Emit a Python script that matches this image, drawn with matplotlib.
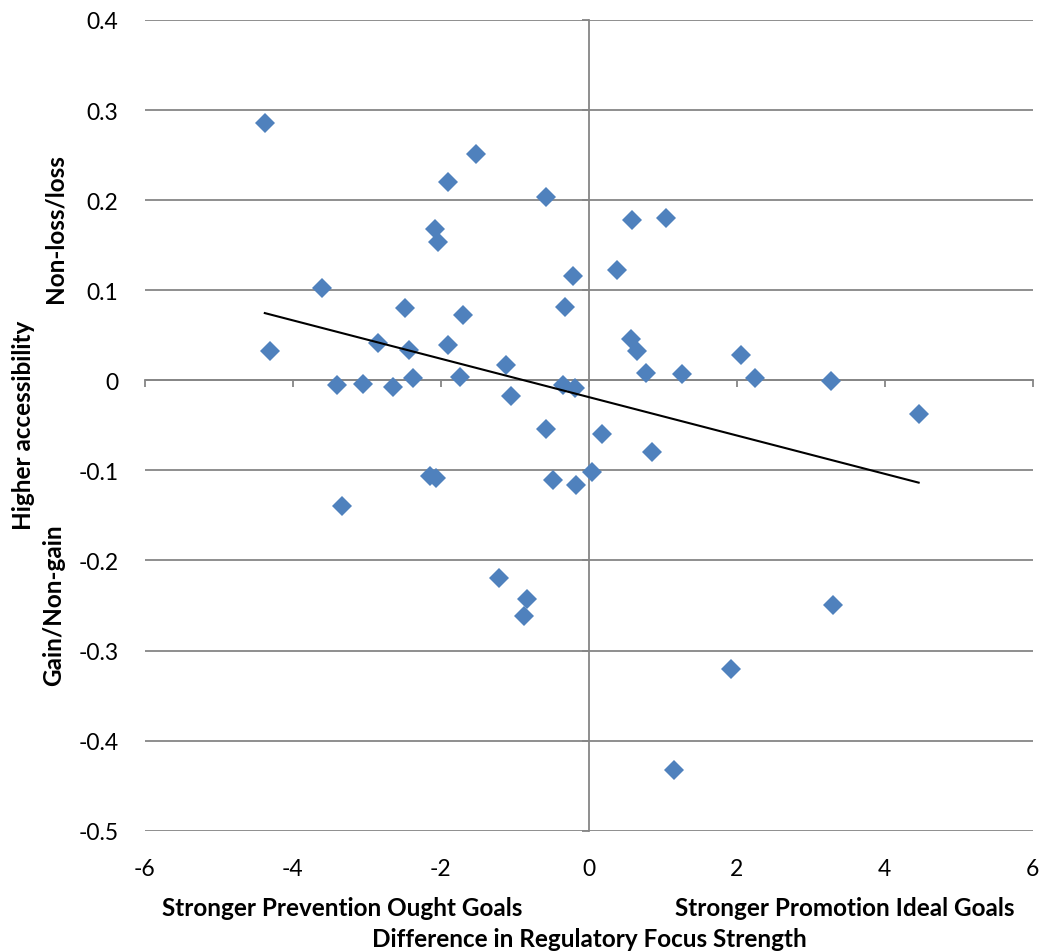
import numpy as np
import matplotlib
matplotlib.use("Agg")
import matplotlib.pyplot as plt

plt.rcParams['font.family'] = ['Lato', 'DejaVu Sans']

x_vals = [-4.38, -1.53, -1.90, -0.58, -2.08, -2.04, -0.21, -3.60, -0.32, -2.48,
          -1.70, -4.31, -2.85, -2.43, -1.90, -1.12, -3.40, -3.05, -2.65, -2.37,
          -1.74, -1.05, -0.35, -0.185, 0.58, 1.05, 0.38, 0.57, 0.65, 0.77,
          1.26, 2.06, 2.25, 3.28, 4.46, -0.58, -3.33, -2.15, -2.07, -0.48,
          -0.175, 0.05, -1.21, -0.83, -0.88, 0.175, 0.86, 3.30, 1.92, 1.155]
y_vals = [0.286, 0.251, 0.220, 0.204, 0.168, 0.153, 0.116, 0.102, 0.081, 0.080,
          0.073, 0.032, 0.041, 0.034, 0.039, 0.017, -0.0055, -0.0044, -0.008, 0.002,
          0.004, -0.018, -0.0055, -0.009, 0.178, 0.180, 0.122, 0.046, 0.032, 0.0085,
          0.0074, 0.0285, 0.003, -0.001, -0.037, -0.054, -0.140, -0.1065, -0.109, -0.1106,
          -0.1158, -0.102, -0.219, -0.243, -0.2615, -0.060, -0.080, -0.250, -0.320, -0.433]

x_ticks = [-6, -4, -2, 0, 2, 4, 6]
y_ticks = [0.4, 0.3, 0.2, 0.1, 0.0, -0.1, -0.2, -0.3, -0.4, -0.5]
y_tick_labels = ["0.4", "0.3", "0.2", "0.1", "0", "-0.1", "-0.2", "-0.3", "-0.4", "-0.5"]

grid_col = '#868686'
marker_col = '#4F81BD'

fig = plt.figure(figsize=(10.43, 9.53), dpi=100)
ax = fig.add_axes([0.139, 0.1273, 0.851, 0.8507])
ax.set_xlim(-6, 6)
ax.set_ylim(-0.5, 0.4)

# gridlines
ax.set_yticks(y_ticks)
ax.set_xticks(x_ticks)
ax.yaxis.grid(True, color=grid_col, linewidth=1.3)
ax.set_axisbelow(True)

for s in ['top', 'right']:
    ax.spines[s].set_visible(False)
ax.spines['left'].set_position(('data', 0))
ax.spines['bottom'].set_position(('data', 0))
ax.spines['left'].set_color(grid_col)
ax.spines['bottom'].set_color(grid_col)
ax.spines['left'].set_linewidth(1.3)
ax.spines['bottom'].set_linewidth(1.3)
ax.tick_params(axis='both', direction='out', length=5, width=1.3, color=grid_col,
               labelleft=False, labelbottom=False)

# tick labels at plot edges
secy = ax.secondary_yaxis('left')
secy.set_yticks(y_ticks)
secy.set_yticklabels(y_tick_labels)
secy.spines['left'].set_visible(False)
secy.tick_params(length=0, pad=19, labelsize=16.5)

secx = ax.secondary_xaxis('bottom')
secx.set_xticks(x_ticks)
secx.set_xticklabels([str(t) for t in x_ticks])
secx.spines['bottom'].set_visible(False)
secx.tick_params(length=0, pad=20, labelsize=16.5)

# data
ax.plot(x_vals, y_vals, linestyle='none', marker='D', markersize=10,
        color=marker_col, markeredgewidth=0, zorder=3)

# linear trendline
xa = np.array(x_vals)
ya = np.array(y_vals)
m, b = np.polyfit(xa, ya, 1)
xs = np.array([xa.min(), xa.max()])
ax.plot(xs, m * xs + b, color='black', linewidth=1.5, zorder=4)

W, H = 1043, 953
def fx(px):
    return px / W
def fy(py):
    return 1 - py / H

lab_fs = 17.5
fig.text(fx(342), fy(908), "Stronger Prevention Ought Goals", ha='center', va='center',
         fontsize=lab_fs, fontweight='bold')
fig.text(fx(845), fy(908), "Stronger Promotion Ideal Goals", ha='center', va='center',
         fontsize=lab_fs, fontweight='bold')
fig.text(fx(589), fy(940), "Difference in Regulatory Focus Strength", ha='center', va='center',
         fontsize=lab_fs, fontweight='bold')
fig.text(fx(55), fy(229), "Non-loss/loss", ha='center', va='center', rotation=90,
         fontsize=lab_fs, fontweight='bold')
fig.text(fx(24), fy(425), "Higher accessibility", ha='center', va='center', rotation=90,
         fontsize=lab_fs, fontweight='bold')
fig.text(fx(54), fy(605), "Gain/Non-gain", ha='center', va='center', rotation=90,
         fontsize=lab_fs, fontweight='bold')

fig.savefig("out.png", dpi=100)
